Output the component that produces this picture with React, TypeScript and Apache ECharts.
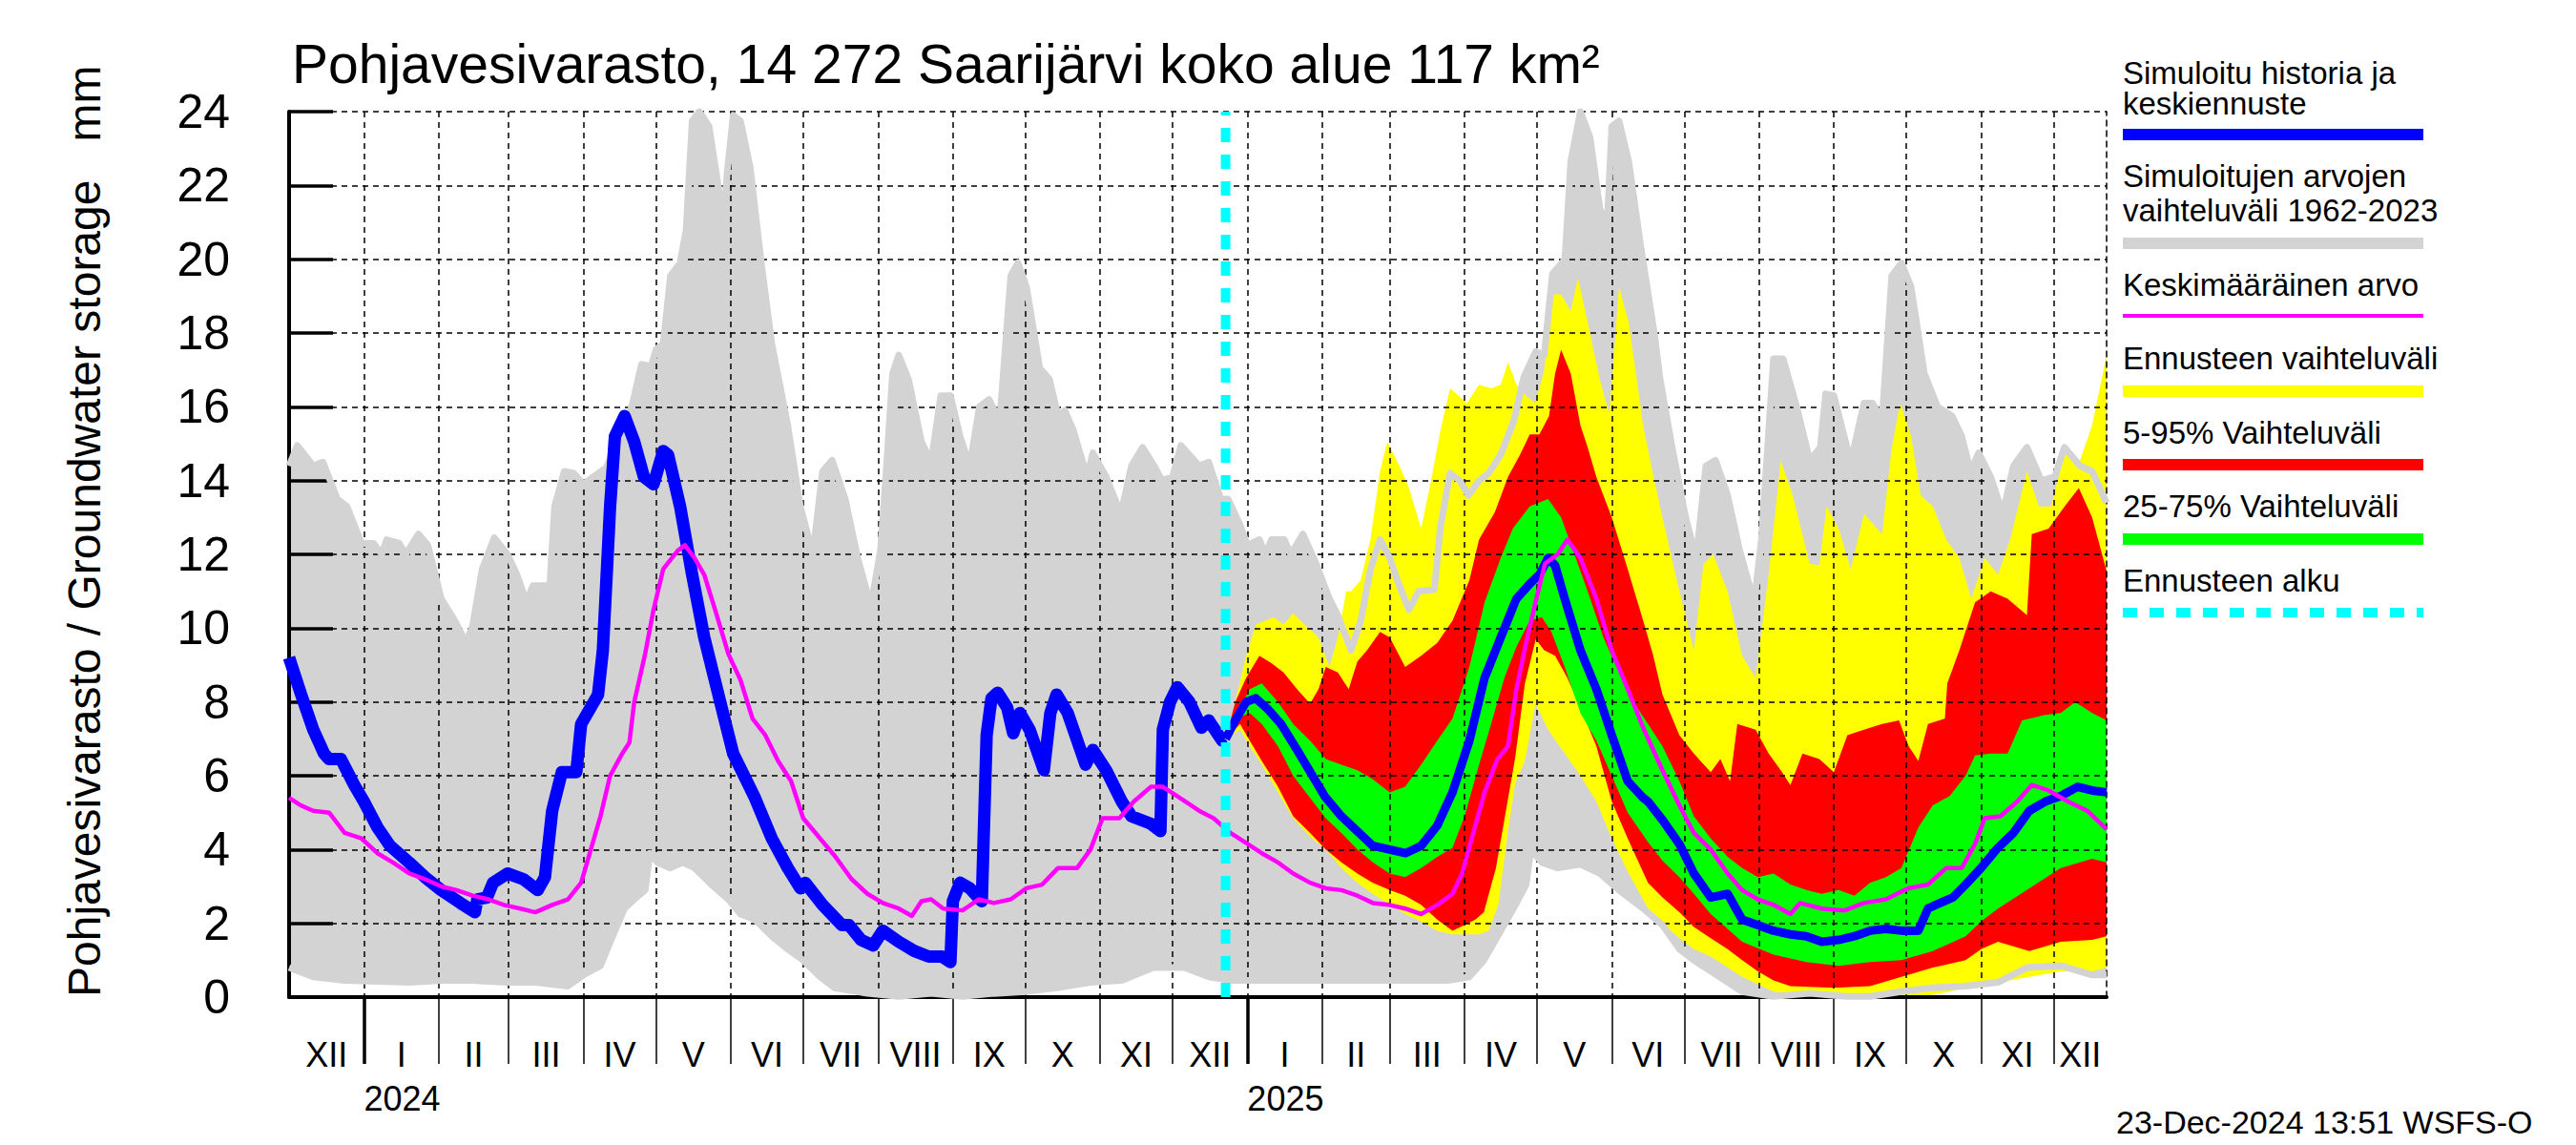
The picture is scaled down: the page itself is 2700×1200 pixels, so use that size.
import React, { useEffect, useRef } from "react";
import * as echarts from "echarts";

const FONT = "'Liberation Sans', Arial, Helvetica, sans-serif";

const START = Date.UTC(2023, 11, 1);
const dayOf = (y: number, m: number, d: number) => (Date.UTC(y, m, d) - START) / 86400000;
const X_MAX = dayOf(2025, 11, 23);
const FORECAST_DAY = dayOf(2024, 11, 23);

const ROMAN = ["I", "II", "III", "IV", "V", "VI", "VII", "VIII", "IX", "X", "XI", "XII"];
const monthBounds: number[] = [];
for (let y = 2024; y <= 2025; y++) for (let m = 0; m < 12; m++) monthBounds.push(dayOf(y, m, 1));
const monthLabels = ["XII", ...ROMAN, ...ROMAN];
const monthEdges = [0, ...monthBounds, X_MAX];
const monthMids = monthEdges.slice(0, -1).map((d, i) => (d + monthEdges[i + 1]) / 2);
const yearBounds = [dayOf(2024, 0, 1), dayOf(2025, 0, 1)];
const yearLabels = ["2024", "2025"];

const TITLE = "Pohjavesivarasto, 14 272 Saarijärvi koko alue 117 km²";
const Y_NAME = "Pohjavesivarasto / Groundwater storage   mm";
const FOOTER = "23-Dec-2024 13:51 WSFS-O";

// [day since 2023-12-01, mm]
const blueHist = [[0,9.2],[5,8.2],[10,7.25],[14.5,6.6],[16.5,6.45],[21.5,6.45],[27,5.75],[31,5.3],[36.6,4.6],[41.8,4.1],[49.7,3.65],[56.3,3.25],[63,2.9],[71,2.55],[77,2.3],[78,2.65],[82,2.7],[84.5,3.1],[90.5,3.35],[97,3.2],[103,2.9],[106,3.25],[109,5.05],[113,6.1],[119,6.1],[121,7.4],[128,8.2],[130,9.4],[133,13.3],[135,15.2],[139,15.75],[143,15.05],[147,14.1],[151,13.9],[155,14.8],[157,14.7],[162,13.3],[167,11.45],[172,9.75],[179,7.9],[184,6.6],[190,5.8],[193,5.4],[200,4.3],[206.6,3.5],[211.8,2.95],[213.8,3.1],[221,2.5],[229,1.95],[232,1.95],[237,1.55],[242,1.4],[246,1.8],[252.6,1.5],[259,1.25],[265,1.1],[270.5,1.1],[274,0.95],[275,2.6],[278,3.1],[282,2.95],[287,2.6],[289,7.1],[291,8.1],[293.6,8.25],[297.5,7.85],[300,7.15],[302.8,7.7],[306.8,7.25],[312.7,6.15],[315.4,7.7],[318,8.2],[322.6,7.7],[330,6.3],[333,6.7],[338.5,6.15],[345,5.3],[349,4.9],[357,4.7],[361,4.5],[362,7.25],[365,8.0],[368,8.4],[373,8.0],[378,7.3],[381,7.5],[386.6,6.95],[388,7.0]];

const blueForecast = [[388,7.0],[392,7.5],[396.5,8.0],[400.5,8.1],[405.6,7.8],[411,7.4],[417.6,6.7],[424,6.0],[429,5.45],[436,4.9],[442.5,4.5],[449,4.1],[456,4.0],[462.5,3.9],[469,4.1],[475.7,4.65],[482,5.55],[489,6.95],[495.3,8.65],[502,9.75],[508.5,10.8],[514,11.2],[518,11.45],[521.6,11.9],[524.5,11.7],[528.5,10.8],[535,9.4],[541.6,8.35],[548,7.1],[554.6,5.85],[561,5.4],[563,5.3],[569,4.8],[576,4.15],[582,3.35],[589,2.7],[596,2.8],[602,2.1],[608.5,1.95],[615,1.8],[622,1.7],[628.6,1.65],[635,1.5],[642,1.55],[648.5,1.65],[655,1.8],[661.6,1.85],[668,1.8],[675,1.8],[679,2.4],[684,2.55],[689.3,2.7],[694.6,3.05],[701,3.5],[708,4.05],[714.4,4.45],[721,5.05],[727.6,5.3],[734,5.45],[741,5.7],[747,5.6],[753,5.55]];

const meanLine = [[0,5.4],[4.7,5.2],[10,5.05],[16.6,5.0],[23,4.45],[30,4.3],[36.6,3.9],[43,3.65],[49.8,3.35],[56.2,3.2],[63,3.0],[69.4,2.9],[76,2.75],[82.6,2.65],[89,2.5],[95.8,2.4],[102,2.3],[109,2.5],[115.5,2.65],[121,3.1],[125,4.0],[129,4.9],[133,6.0],[138,6.6],[141,6.9],[143,8.0],[147.5,9.3],[151,10.5],[155,11.6],[161,12.1],[164,12.25],[168,11.9],[172,11.45],[176.5,10.5],[182,9.3],[187,8.6],[192,7.55],[197.3,7.1],[202.6,6.4],[208,5.85],[213,4.85],[220,4.3],[226.4,3.8],[233,3.2],[239.6,2.8],[246,2.55],[252.6,2.4],[258,2.2],[262,2.6],[266,2.65],[271,2.4],[279,2.35],[285.7,2.65],[292,2.55],[299,2.65],[305.5,2.95],[312,3.05],[318.6,3.5],[326.5,3.5],[332,4.0],[337,4.85],[344,4.85],[350,5.3],[357,5.7],[362,5.7],[369,5.4],[377,5.05],[383,4.85],[390,4.45],[396,4.2],[403,3.9],[409.7,3.65],[416,3.35],[423,3.1],[429.5,2.95],[436,2.9],[442.6,2.75],[449,2.55],[455.8,2.5],[462.4,2.4],[469,2.25],[475.7,2.5],[482,2.8],[486,3.35],[490,4.3],[495.3,5.55],[500.6,6.45],[505,6.8],[508.5,8.35],[512.5,9.6],[516.4,10.7],[520.3,11.75],[525.6,12.0],[529.6,12.4],[535,11.9],[541.6,10.8],[548,9.4],[554.6,8.35],[561,7.3],[569,6.15],[576,5.2],[582,4.45],[589,4.0],[596,3.35],[602,2.9],[608.5,2.65],[615,2.5],[622,2.25],[626,2.55],[635,2.4],[644.5,2.35],[652.5,2.55],[661.6,2.65],[670.8,2.95],[679,3.05],[686.6,3.5],[693,3.5],[698.5,4.15],[702.5,4.85],[709,4.9],[716,5.3],[722,5.75],[729,5.6],[737,5.3],[745,5.05],[753,4.55]];

const histMax = [[0,14.4],[3.4,14.95],[10,14.4],[14,14.5],[20,13.5],[24,13.3],[30,12.3],[35,12.3],[38.4,12.0],[40.4,12.4],[45.6,12.3],[48.3,12.0],[53.6,12.55],[57.5,12.25],[63,10.8],[68.7,10.2],[73.3,9.6],[76,10.05],[80,11.6],[85,12.45],[90.5,12.0],[94.4,11.45],[98.4,10.7],[101,11.15],[108,11.15],[110,13.3],[114,14.25],[118,14.2],[122,13.9],[126,14.1],[131.4,14.35],[135,14.9],[142,16.0],[146,17.15],[150,17.1],[152,17.55],[155,17.7],[158,19.55],[162,19.9],[164.5,20.8],[167,23.75],[170,24],[174,23.6],[178,21.9],[180,20.9],[181.5,22.35],[184,23.9],[187,23.75],[191,22.5],[196,19.7],[200,17.7],[206.6,15.5],[211.8,13.3],[217,12.0],[221,14.25],[225,14.55],[230.4,13.5],[235.6,11.9],[241,10.6],[245,12.1],[247.4,14.25],[250,16.9],[252.6,17.4],[256.6,16.75],[262,15.05],[266,14.5],[270,16.3],[274,16.3],[278,15.2],[282,14.4],[286,16.0],[290,16.2],[294.4,15.6],[299,19.55],[302,19.9],[305.5,19.25],[311,17.05],[315,16.75],[318.6,15.75],[321.4,15.9],[325,15.35],[330.6,14.1],[333,14.75],[338.5,14.1],[344.6,13.1],[349,14.4],[353.6,14.9],[358.4,14.4],[361.7,14.0],[366,14.1],[369.5,14.95],[377,14.4],[381,14.5],[386,13.5],[389,13.5],[394,12.8],[397,12.25],[402,12.4],[404.5,12.0],[407,12.4],[412.3,12.4],[415,12.0],[420,12.55],[425.5,11.75],[431,10.8],[434.5,10.35],[440,9.4],[444,10.2],[448,11.6],[452,12.4],[456,11.9],[460,11.15],[464,10.5],[468,11.0],[474.5,11.05],[477,12.75],[481,14.2],[485,14.0],[488.6,13.6],[493,14.0],[497,14.2],[502,14.7],[507.6,15.65],[511.5,16.8],[516.5,17.5],[520,17.4],[523.4,19.6],[528.6,20.0],[531,22.65],[535,24],[539,23.3],[543,21.4],[546,20.8],[548,23.6],[551,23.75],[555,22.65],[560,20.35],[565.6,18.0],[568,16.75],[573,14.9],[578.6,13.0],[583,11.9],[587,14.4],[591,14.55],[596,13.6],[601,12.1],[607,10.7],[610,12.4],[615,17.3],[619,17.3],[624.6,16.0],[630,14.55],[634.4,14.9],[636.6,16.35],[640,16.3],[647,14.5],[652.5,16.1],[656,16.1],[660,15.65],[664,19.55],[668,19.9],[672,19.25],[677.5,16.9],[683,16.0],[689,15.75],[693,15.2],[696.6,14.25],[700,14.75],[705,14.1],[710,13.1],[714.4,14.4],[720,14.9],[726,14.0],[731.5,14.1],[735.5,14.9],[742,14.4],[747,14.25],[753,13.4]];

const histMin = [[0,0.8],[10,0.55],[23,0.45],[50,0.4],[63,0.45],[76,0.45],[90,0.4],[102,0.4],[115.5,0.3],[122,0.6],[129,0.85],[135,1.8],[139,2.4],[143,2.65],[147.5,2.9],[149.5,3.9],[152.5,3.65],[158,3.5],[163,3.65],[168,3.5],[175,3.05],[182,2.65],[187,2.25],[193,2.1],[200,1.65],[206.6,1.3],[213,1.0],[220,0.55],[226,0.25],[239.6,0.1],[252.6,0.02],[266,0.1],[279,0.02],[292,0.1],[305,0.15],[318,0.25],[332,0.4],[345,0.45],[358,0.8],[371,0.8],[381,0.55],[390,0.45],[420,0.45],[450,0.45],[480,0.45],[489,0.55],[495,1.0],[502,1.8],[508.5,2.55],[512.5,3.05],[514.5,4.0],[519,3.65],[525.6,3.5],[535,3.6],[543,3.35],[551,2.9],[561,2.4],[569,1.95],[576,1.3],[582,1.0],[589,0.7],[602,0.15],[615,0.02],[630,0.1],[645,0.02],[655,0.02],[668,0.15],[681,0.25],[694.6,0.3],[708,0.4],[720,0.8],[734,0.85],[747,0.6],[753,0.6]];

const ensMax = [[388,7.0],[392,8.0],[396.5,9.25],[400.5,10.1],[408,10.3],[412,10.1],[416,10.4],[421.5,10.05],[426.5,9.75],[431,8.95],[434.5,9.75],[438,11.0],[440,11.0],[444,11.3],[448,12.4],[452,14.25],[455,15.05],[460,14.4],[464,13.8],[469,12.7],[473,13.95],[477,15.35],[481,16.5],[488,16.1],[493,16.6],[498,16.5],[502,16.6],[505,17.2],[508.5,16.6],[512.5,16.3],[516.4,16.1],[520,17.0],[523,19.05],[527,19.05],[531,18.6],[534,19.5],[538,18.3],[543,16.75],[547,15.8],[551,19.25],[555,18.3],[561,15.5],[565,14.2],[569,13.0],[576,11.0],[582,9.4],[586,11.75],[590,12.0],[596,11.0],[602,9.25],[607.6,8.65],[613,11.45],[618,14.55],[623,13.6],[630,11.75],[634,11.7],[637,13.3],[642,12.7],[647,11.6],[652.5,13.1],[660,12.55],[664,14.9],[667.5,16.1],[672,15.2],[676,13.6],[681,13.3],[686.6,12.4],[692,11.9],[697,10.8],[702.5,11.9],[708,11.45],[713,12.4],[720,14.25],[725,13.3],[730,13.3],[735.6,14.75],[742,14.55],[747,15.5],[753,17.4]];

const ensMin = [[388,7.0],[394,7.25],[398,6.8],[403,6.3],[409.7,5.55],[416,4.85],[423,4.35],[429.5,4.0],[436,3.5],[442.6,3.1],[449,2.8],[456,2.5],[462.4,2.25],[469,2.05],[475.7,1.8],[482,1.7],[489,1.7],[493,1.7],[497,1.8],[501,2.5],[505,4.5],[508,5.8],[512,6.4],[516.4,7.95],[521.6,7.25],[528.5,6.6],[535,6.0],[541.6,5.3],[548,4.3],[554.6,3.4],[563,2.4],[569,2.0],[576,1.6],[582,1.3],[589,1.1],[596,0.8],[602,0.55],[608.5,0.35],[615,0.15],[622,0.08],[640,0.05],[680,0.05],[688,0.15],[694.6,0.25],[708,0.4],[721,0.55],[734,0.7],[747,0.7],[753,0.8]];

const p95 = [[388,7.0],[392,8.0],[396.5,8.65],[402,9.25],[407,9.05],[412,8.8],[417.6,8.35],[423,7.95],[426.5,8.35],[429.5,8.95],[434.5,8.8],[439,8.35],[442.6,9.1],[446.6,9.4],[452,9.9],[456,9.75],[462.4,8.95],[469,9.25],[475.7,9.6],[482,10.2],[489,11.3],[493,12.4],[499.6,13.15],[505,14.1],[510,14.7],[514,15.25],[518,15.25],[522,15.75],[524.5,16.9],[527,17.55],[531,16.9],[535,15.5],[538,14.9],[541.6,14.1],[548,13.0],[554.6,11.6],[561,10.2],[565,9.3],[569,8.2],[576,7.1],[582,6.6],[589,6.1],[593,6.45],[597,5.85],[600,7.4],[607.6,7.25],[613,6.6],[618,6.15],[622,5.75],[627,6.6],[634,6.45],[640,6.1],[645.6,7.1],[652.5,7.25],[660,7.4],[667,7.5],[671,6.8],[675,6.4],[679,7.4],[686,7.55],[687,8.5],[692,9.4],[698.5,10.7],[705,11.0],[712,10.8],[720,10.35],[722,12.55],[729,12.7],[735.6,13.3],[741.5,13.8],[747,13.0],[753,11.55]];

const p5 = [[388,7.0],[394,7.4],[398,6.95],[403,6.4],[409.7,5.7],[416,4.9],[423,4.45],[429.5,4.0],[436,3.65],[442.6,3.35],[449,3.1],[456,2.9],[462.4,2.75],[469,2.5],[475.7,2.1],[482,1.8],[487,1.95],[491.5,2.1],[495,2.3],[500,3.5],[504,5.0],[508,6.5],[512,8.5],[516.5,9.7],[520,9.4],[524.5,9.25],[529.6,8.65],[535,7.85],[541.6,6.8],[548,5.3],[554.6,4.3],[563,3.1],[569,2.7],[576,2.3],[582,1.9],[589,1.6],[596,1.3],[602,1.0],[608.5,0.7],[615,0.45],[622,0.3],[640,0.25],[655,0.3],[668,0.55],[681,0.8],[694.6,1.0],[701,1.3],[708,1.5],[721,1.25],[734,1.5],[747,1.55],[753,1.65]];

const p75 = [[388,7.0],[394,7.85],[398,8.35],[403,8.5],[409.7,8.0],[416,7.4],[423,6.95],[429.5,6.45],[436,6.3],[442.6,6.15],[449,5.9],[456,5.55],[462.4,5.7],[469,6.3],[475.7,6.95],[482,7.55],[489,8.95],[495.3,10.7],[502,11.9],[507,12.7],[514,13.3],[521.6,13.5],[527,13.0],[532,12.1],[538,11.0],[544.5,9.75],[551,8.8],[557,8.0],[563,7.4],[569,6.8],[576,5.85],[582,4.9],[589,4.3],[596,3.8],[602,3.5],[608.5,3.25],[615,3.35],[622,3.05],[628.6,2.9],[635,2.8],[642,2.9],[648.5,2.75],[655,3.1],[661.6,3.25],[668,3.5],[675,4.6],[681,5.2],[688,5.45],[694.6,6.0],[698.5,6.55],[705,6.6],[712,6.6],[718,7.5],[727.6,7.65],[734,7.7],[740,8.0],[747,7.7],[753,7.5]];

const p25 = [[388,7.0],[394,7.6],[398,7.7],[403,7.4],[409.7,6.8],[416,6.0],[423,5.4],[429.5,4.85],[436,4.45],[442.6,4.0],[449,3.65],[456,3.35],[462.4,3.25],[469,3.5],[475.7,3.8],[482,4.05],[487,4.9],[493,6.3],[498,7.4],[503.5,8.65],[508.5,9.5],[514,10.2],[519,10.3],[523,9.9],[528.5,8.95],[535,7.7],[541.6,6.95],[548,6.0],[554.6,5.0],[563,4.2],[569,3.7],[576,3.25],[582,2.8],[589,2.25],[596,1.85],[602,1.5],[615,1.15],[628.6,0.95],[642,0.85],[655,0.95],[668,1.0],[681,1.25],[694.6,1.65],[701,2.05],[708,2.4],[721,2.95],[734,3.5],[747,3.75],[753,3.65]];

const legendItems = [
  { lines: ["Simuloitu historia ja", "keskiennuste"], ty: [76, 108], ly: 141, color: "#0000ff", w: 12 },
  { lines: ["Simuloitujen arvojen", "vaihteluväli 1962-2023"], ty: [184, 220], ly: 255, color: "#d3d3d3", w: 12 },
  { lines: ["Keskimääräinen arvo"], ty: [298], ly: 331, color: "#ff00ff", w: 4 },
  { lines: ["Ennusteen vaihteluväli"], ty: [375], ly: 410, color: "#ffff00", w: 12 },
  { lines: ["5-95% Vaihteluväli"], ty: [453], ly: 487, color: "#ff0000", w: 12 },
  { lines: ["25-75% Vaihteluväli"], ty: [530], ly: 565, color: "#00ff00", w: 12 },
  { lines: ["Ennusteen alku"], ty: [608], ly: 642, color: "#00ffff", w: 10, dash: [15, 13] },
];

function band(name: string, hi: number[][], lo: number[][], color: string, z: number) {
  return {
    type: "custom",
    name,
    coordinateSystem: "cartesian2d",
    xAxisIndex: 0,
    yAxisIndex: 0,
    z,
    silent: true,
    clip: true,
    data: [hi[0]],
    renderItem: (_params: any, api: any) => {
      const pts = hi.map((p) => api.coord(p)).concat(lo.slice().reverse().map((p) => api.coord(p)));
      return { type: "polygon", shape: { points: pts }, style: { fill: color, stroke: null, lineWidth: 0 } };
    },
  };
}

function line(name: string, data: number[][], color: string, width: number, z: number, extra: any = {}) {
  return {
    type: "line",
    name,
    data,
    z,
    silent: true,
    symbol: "none",
    showSymbol: false,
    smooth: false,
    lineStyle: { color, width, join: "round", cap: "butt", ...(extra.lineStyle || {}) },
    itemStyle: { color },
  };
}

export default function App() {
  const ref = useRef<HTMLDivElement>(null);
  useEffect(() => {
    if (!ref.current) return;
    const chart = echarts.init(ref.current, undefined, { renderer: "svg" });
    const txt = (x: number, y: number, text: string, fontSize: number, extra: any = {}) => ({
      type: "text",
      x,
      y,
      z: 10,
      silent: true,
      ...extra,
      style: {
        text,
        fontSize,
        fontFamily: FONT,
        fill: "#000",
        align: "left",
        textAlign: "left",
        verticalAlign: "middle",
        textVerticalAlign: "middle",
      },
    });
    const graphics: any[] = [];
    graphics.push(txt(306, 67, TITLE, 57));
    graphics.push(txt(88, 1045, Y_NAME, 48, { rotation: Math.PI / 2 }));
    legendItems.forEach((it) => {
      it.lines.forEach((t, i) => graphics.push(txt(2225, it.ty[i], t, 33)));
      graphics.push({
        type: "line",
        silent: true,
        z: 10,
        shape: { x1: 2225, y1: it.ly, x2: 2540, y2: it.ly },
        style: { stroke: it.color, lineWidth: it.w, lineDash: (it as any).dash || null },
      });
    });
    graphics.push(txt(2218, 1176, FOOTER, 34));

    const dashGrid = { color: "#000", width: 1.5, type: [6, 5] };
    const option: any = {
      animation: false,
      backgroundColor: "#fff",
      textStyle: { fontFamily: FONT },
      grid: { left: 303, right: 492, top: 117, bottom: 155, containLabel: false, outerBoundsMode: "none" },
      xAxis: [
        {
          type: "value",
          min: 0,
          max: X_MAX,
          position: "bottom",
          z: 2,
          axisLine: { show: true, onZero: false, lineStyle: { color: "#000", width: 4 } },
          axisTick: { show: true, customValues: monthBounds, length: 70, inside: false, lineStyle: { color: "#000", width: 1.5 } },
          axisLabel: {
            show: true,
            customValues: monthMids,
            formatter: (v: number) => {
              const i = monthMids.findIndex((m) => Math.abs(m - v) < 1e-6);
              return i >= 0 ? monthLabels[i] : "";
            },
            fontSize: 36,
            fontFamily: FONT,
            color: "#000",
            margin: 60,
            verticalAlign: "middle",
          },
          splitLine: { show: true, lineStyle: dashGrid },
        },
        {
          type: "value",
          min: 0,
          max: X_MAX,
          position: "bottom",
          z: 2,
          axisLine: { show: false, onZero: false },
          axisTick: { show: true, customValues: yearBounds, length: 70, inside: false, lineStyle: { color: "#000", width: 3.5 } },
          axisLabel: {
            show: true,
            customValues: yearBounds,
            formatter: (v: number) => {
              const i = yearBounds.findIndex((m) => Math.abs(m - v) < 1e-6);
              return i >= 0 ? yearLabels[i] : "";
            },
            fontSize: 36,
            fontFamily: FONT,
            color: "#000",
            margin: 106,
            align: "left",
            verticalAlign: "middle",
          },
          splitLine: { show: false },
        },
      ],
      yAxis: [
        {
          type: "value",
          min: 0,
          max: 24,
          interval: 2,
          z: 2,
          axisLine: { show: true, onZero: false, lineStyle: { color: "#000", width: 4 } },
          axisTick: { show: true, inside: true, length: 46, lineStyle: { color: "#000", width: 3.5 } },
          axisLabel: { fontSize: 50, color: "#000", margin: 62, fontFamily: FONT },
          splitLine: { show: true, lineStyle: dashGrid },
        },
        {
          type: "value",
          min: 0,
          max: 24,
          position: "right",
          z: 2,
          axisLine: { show: true, onZero: false, lineStyle: dashGrid },
          axisTick: { show: false },
          axisLabel: { show: false },
          splitLine: { show: false },
        },
      ],
      series: [
        band("Simuloitujen arvojen vaihteluväli", histMax, histMin, "#d3d3d3", 1),
        band("Ennusteen vaihteluväli", ensMax, ensMin, "#ffff00", 1),
        band("5-95% Vaihteluväli", p95, p5, "#ff0000", 1),
        band("25-75% Vaihteluväli", p75, p25, "#00ff00", 1),
        line("max", histMax, "#d3d3d3", 7, 3),
        line("min", histMin, "#d3d3d3", 7, 3),
        line("Simuloitu historia", blueHist, "#0000ff", 13, 4),
        line("Keskiennuste", blueForecast, "#0000ff", 9, 4),
        line("Keskimääräinen arvo", meanLine, "#ff00ff", 4.5, 5),
        line("Ennusteen alku", [[FORECAST_DAY, 0], [FORECAST_DAY, 24]], "#00ffff", 10, 6, { lineStyle: { type: [15, 13] } }),
      ],
      graphic: { elements: graphics },
    };
    chart.setOption(option);
    return () => chart.dispose();
  }, []);
  return (
    <div
      ref={ref}
      style={{ position: "fixed", left: 0, top: 0, width: 2700, height: 1200, background: "#fff" }}
    />
  );
}
